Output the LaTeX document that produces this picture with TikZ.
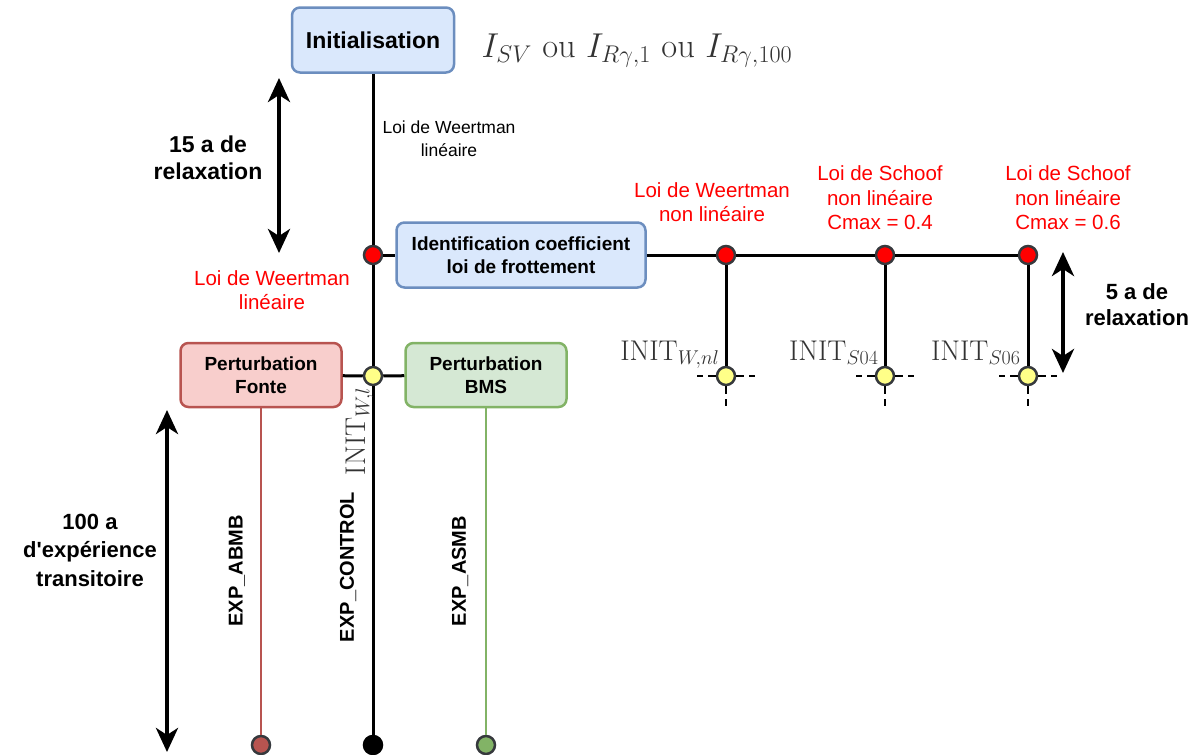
\RequirePackage{fix-cm}
\documentclass[tikz,border=0pt]{standalone}
\usepackage{fontspec}
\setsansfont{Liberation Sans}
\usetikzlibrary{arrows.meta}
\definecolor{blueFill}{HTML}{DAE8FC}
\definecolor{blueLine}{HTML}{6C8EBF}
\definecolor{redFill}{HTML}{F8CECC}
\definecolor{redLine}{HTML}{B85450}
\definecolor{greenFill}{HTML}{D5E8D4}
\definecolor{greenLine}{HTML}{82B366}
\definecolor{yelFill}{HTML}{FFFF88}
\definecolor{dotLine}{HTML}{36393D}
\begin{document}
\begin{tikzpicture}[x=1pt,y=-1pt,line width=3pt,
  box/.style={draw,rounded corners=8pt,line width=2.5pt,align=center,inner sep=0pt,font=\sffamily\bfseries\fontsize{19}{23.5}\selectfont},
  dot/.style={circle,draw=dotLine,line width=2.5pt,minimum size=18pt,inner sep=0pt},
  note/.style={align=center,inner sep=0pt,font=\sffamily\fontsize{20.5}{24.5}\selectfont},
  big/.style={align=center,inner sep=0pt,font=\sffamily\bfseries\fontsize{23}{27.5}\selectfont},
  exp/.style={rotate=90,inner sep=0pt,font=\sffamily\bfseries\fontsize{20}{24}\selectfont},
  initlbl/.style={text=black!80,inner sep=1pt,font=\fontsize{28.5}{32}\selectfont},
  duree/.style={line width=4pt,{Stealth[length=24pt,width=22pt,inset=7pt]}-{Stealth[length=24pt,width=22pt,inset=7pt]}},
  cross/.style={line width=2.5pt,dash pattern=on 8pt off 5pt}]
  \useasboundingbox (0,0) rectangle (1195,755);
  \node[box,fill=blueFill,draw=blueLine,minimum width=162pt,minimum height=65pt,font=\sffamily\bfseries\fontsize{23}{27}\selectfont] (ini) at (373,40) {Initialisation};
  \node[anchor=base west,text=black!80,inner sep=0pt,font=\fontsize{34.5}{38}\selectfont] (isv) at (480,57) {$I_{SV}$ ou $I_{R\gamma,1}$ ou $I_{R\gamma,100}$};
  \node[box,fill=blueFill,draw=blueLine,minimum width=249pt,minimum height=65pt] (ident) at (521,255) {Identification coefficient\\loi de frottement};
  \node[box,fill=redFill,draw=redLine,minimum width=161pt,minimum height=64pt] (fonte) at (261,375) {Perturbation\\Fonte};
  \node[box,fill=greenFill,draw=greenLine,minimum width=161pt,minimum height=64pt] (bms) at (486,375) {Perturbation\\BMS};
  \node[dot,fill=red] (w0) at (373,255) {};
  \node[dot,fill=yelFill] (y0) at (373,376) {};
  \node[dot,fill=redLine] (bf) at (261,745) {};
  \node[dot,fill=black,draw=black] (b0) at (373,745) {};
  \node[dot,fill=greenLine] (bg) at (486,745) {};
  \foreach \n/\x in {wnl/726,s04/885,s06/1028} {
    \node[dot,fill=red] (r\n) at (\x,255) {};
    \node[dot,fill=yelFill] (y\n) at (\x,376) {};
    \draw (r\n) -- (y\n);
    \draw[cross] (y\n.west) -- ([xshift=-29pt]y\n.center);
    \draw[cross] (y\n.east) -- ([xshift=29pt]y\n.center);
    \draw[cross] (y\n.south) -- ([yshift=-30pt]y\n.center);
  }
  \draw (ini) -- (w0) -- (y0) -- (b0);
  \draw (w0) -- (ident);
  \draw (ident) -- (rwnl) -- (rs04) -- (rs06);
  \draw (fonte) -- (y0) -- (bms);
  \draw[redLine,line width=2.8pt] (fonte) -- (bf);
  \draw[greenLine,line width=2.8pt] (bms) -- (bg);
  \node[note,font=\sffamily\fontsize{17.5}{23}\selectfont] (lwl) at (449,139) {Loi de Weertman\\linéaire};
  \node[note,text=red] (lwl2) at (272,290) {Loi de Weertman\\linéaire};
  \node[note,text=red] (lwnl) at (712,202) {Loi de Weertman\\non linéaire};
  \node[note,text=red] (ls04) at (880,198) {Loi de Schoof\\non linéaire\\Cmax = 0.4};
  \node[note,text=red] (ls06) at (1068,198) {Loi de Schoof\\non linéaire\\Cmax = 0.6};
  \node[initlbl,anchor=base east] (iwnl) at (722,360) {INIT$_{W,nl}$};
  \node[initlbl,anchor=base east] (is04) at (881,360) {INIT$_{S04}$};
  \node[initlbl,anchor=base east] (is06) at (1023,360) {INIT$_{S06}$};
  \node[initlbl,rotate=90,anchor=base east] (iwl) at (365,385) {INIT$_{W,l}$};
  \node[exp] (eabmb) at (237,571) {EXP\_ABMB};
  \node[exp] (ectrl) at (348,567) {EXP\_CONTROL};
  \node[exp] (easmb) at (460,571) {EXP\_ASMB};
  \coordinate (t15) at (279,78);
  \coordinate (b15) at (279,253);
  \coordinate (t5) at (1063,252);
  \coordinate (b5) at (1063,373);
  \coordinate (t100) at (167,410);
  \coordinate (b100) at (167,752);
  \draw[duree] (t15) -- (b15);
  \draw[duree] (t5) -- (b5);
  \draw[duree] (t100) -- (b100);
  \node[big] (l15) at (208,158) {15 a de\\relaxation};
  \node[big,font=\sffamily\bfseries\fontsize{22}{26}\selectfont] (l5) at (1137,305) {5 a de\\relaxation};
  \node[big,font=\sffamily\bfseries\fontsize{22}{28.5}\selectfont] (l100) at (90,550) {100 a\\d\textquotesingle expérience\\transitoire};
\end{tikzpicture}
\end{document}
